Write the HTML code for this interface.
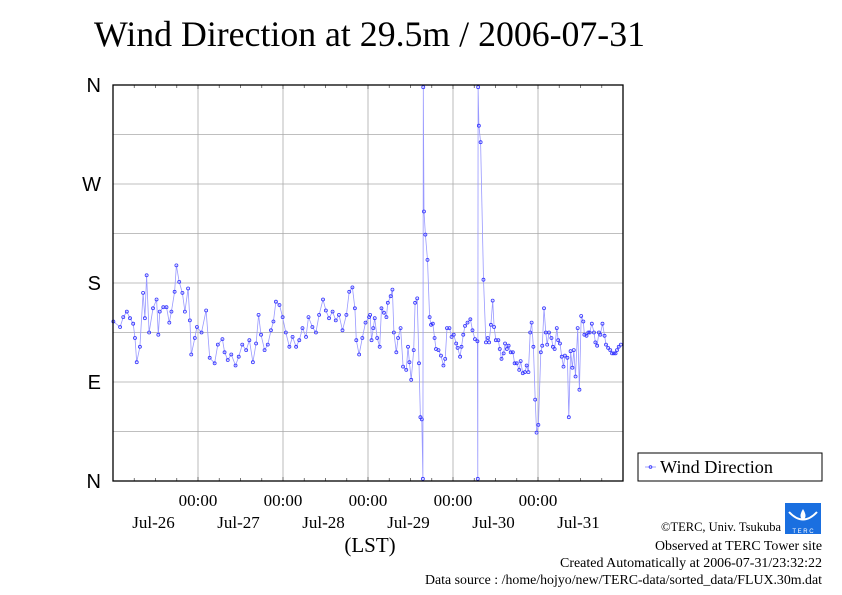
<!DOCTYPE html>
<html><head><meta charset="utf-8"><style>
body{margin:0;background:#fff;}
svg{display:block;font-family:"Liberation Serif",serif;}
</style></head><body>
<svg width="842" height="595" viewBox="0 0 842 595">
<rect width="842" height="595" fill="#fff"/>
<text x="94" y="46" font-size="36" textLength="551" lengthAdjust="spacingAndGlyphs">Wind Direction at 29.5m / 2006-07-31</text>
<g id="grid"></g>
<g id="axes"></g>
<g id="series"></g>
<rect x="113" y="85" width="510" height="396" fill="none" stroke="#000" stroke-width="1.3"/>
<g>
<rect x="638" y="453" width="184" height="28" fill="#fff" stroke="#000" stroke-width="1"/>
<line x1="645" y1="467" x2="656" y2="467" stroke="#8888ff" stroke-width="0.8"/>
<circle cx="650.5" cy="467" r="1.4" fill="none" stroke="#3333ff" stroke-width="0.8"/>
<text x="660" y="473" font-size="17.5" textLength="113" lengthAdjust="spacingAndGlyphs">Wind Direction</text>
</g>
<text x="370" y="552" font-size="21" text-anchor="middle">(LST)</text>
<g>
<rect x="785" y="503" width="36" height="31" fill="#1a6fe0"/>
<path d="M789 512 Q803 527 817 512" fill="none" stroke="#fff" stroke-width="2"/>
<path d="M803 509 Q798 517 803 520 Q808 517 803 509Z" fill="#fff"/>
<text x="803" y="533" font-size="6" fill="#fff" text-anchor="middle" font-family="Liberation Sans,sans-serif">T E R C</text>
</g>
<g text-anchor="end">
<text x="781" y="531" font-size="12.5" textLength="120" lengthAdjust="spacingAndGlyphs">©TERC, Univ. Tsukuba</text>
<text x="822" y="550" font-size="13.5" textLength="167" lengthAdjust="spacingAndGlyphs">Observed at TERC Tower site</text>
<text x="822" y="567" font-size="13.5" textLength="262" lengthAdjust="spacingAndGlyphs">Created Automatically at 2006-07-31/23:32:22</text>
<text x="822" y="584" font-size="13.5" textLength="397" lengthAdjust="spacingAndGlyphs">Data source : /home/hojyo/new/TERC-data/sorted_data/FLUX.30m.dat</text>
</g>
</svg>
<script>
const hours=[0.1,2.0,2.9,3.9,4.8,5.7,6.2,6.7,7.6,8.5,9.0,9.5,10.2,11.3,12.3,12.8,13.2,14.2,15.1,15.9,16.5,17.4,17.9,18.7,19.6,20.3,21.2,21.7,22.1,23.1,23.7,25.0,26.3,27.3,28.7,29.6,30.9,31.5,32.4,33.4,34.6,35.5,36.5,37.6,38.5,39.5,40.4,41.1,41.8,42.8,43.7,44.6,45.3,46.0,47.0,47.9,48.8,49.8,50.7,51.7,52.6,53.5,54.5,55.2,56.3,57.3,58.2,59.3,60.1,61.0,62.0,62.9,63.8,64.8,65.9,66.7,67.6,68.3,68.7,69.5,70.4,71.3,72.3,
72.6,73.0,73.5,73.9,74.6,75.3,75.8,76.5,77.2,77.6,78.4,78.9,79.3,80.0,80.5,81.2,81.9,82.8,83.3,83.7,84.2,84.9,85.3,85.9,86.4,86.8,87.2,87.5,87.6,87.8,88.2,88.8,89.4,
89.8,90.3,90.8,91.2,91.9,92.6,93.3,93.8,94.3,95.0,95.6,96.2,96.9,97.3,98.0,98.4,98.9,99.4,100.1,100.9,101.5,102.2,102.9,
103.0,103.1,103.3,103.8,104.6,
105.3,105.8,106.2,106.7,107.2,107.6,108.1,108.8,109.2,109.7,110.3,110.7,111.2,111.7,112.3,112.9,113.4,114.0,114.7,115.1,115.7,116.3,116.8,117.3,117.8,118.2,118.7,119.2,119.6,120.1,120.8,121.2,121.7,122.2,122.6,123.1,123.8,124.2,124.7,125.3,125.7,126.2,126.7,127.2,127.6,128.3,128.7,129.2,129.7,130.1,130.6,131.2,131.7,132.2,132.8,133.1,133.7,134.2,134.6,135.2,135.8,136.2,136.7,137.2,137.6,138.2,138.8,139.2,139.8,140.4,140.9,141.4,141.9,142.3,142.8,143.4];
const dirs=[145,140,149,154,148,143,130,108,122,171,148,187,135,157,165,133,154,158,158,144,154,172,196,181,171,154,175,146,115,130,140,135,155,112,107,124,129,117,110,115,105,113,124,119,128,108,125,151,133,119,124,137,145,163,160,149,135,122,131,122,128,139,131,149,140,135,151,165,155,148,154,146,151,137,151,172,176,157,128,115,130,144,149,
151,128,139,148,130,122,157,153,149,162,168,174,135,117,130,139,104,101,122,108,92,119,162,166,107,58,56,2,358,245,224,201,149,
142,143,130,120,119,114,105,111,139,139,131,133,125,121,113,122,133,141,144,147,137,129,127,
2,358,323,308,183,
126,130,126,142,164,140,128,128,120,111,116,125,120,123,117,117,107,107,101,109,98,99,105,99,135,144,122,74,44,51,117,123,157,135,124,135,130,122,120,139,128,125,113,104,114,112,58,118,103,119,95,139,83,150,145,133,132,135,135,143,135,126,123,135,133,143,132,124,121,119,116,116,116,119,122,124];
const yTicks=[0,90,180,270,360];
const yTickLabels=["N","E","S","W","N"];
const dayLabels=["Jul-26","Jul-27","Jul-28","Jul-29","Jul-30","Jul-31"];
const NS='http://www.w3.org/2000/svg';
const X0=113,X1=623,Y0=481,Y1=85,H=144;
function xs(h){return X0+(X1-X0)*h/H;}
function ys(d){return Y0-(Y0-Y1)*d/360;}
function mk(tag,attrs,parent){const e=document.createElementNS(NS,tag);for(const k in attrs)e.setAttribute(k,attrs[k]);parent.appendChild(e);return e;}
const grid=document.getElementById('grid'),axes=document.getElementById('axes'),ser=document.getElementById('series');
for(let d=45;d<360;d+=45){const l=mk('line',{x1:X0,x2:X1,y1:ys(d),y2:ys(d),stroke:'#aaa','stroke-width':0.8},grid);

}
for(let h=24;h<H;h+=24){const l=mk('line',{x1:xs(h),x2:xs(h),y1:Y1,y2:Y0,stroke:'#aaa','stroke-width':0.8},grid);

}
for(let h=6;h<H;h+=6){const big=h%24===0;
mk('line',{x1:xs(h),x2:xs(h),y1:Y1,y2:Y1+(big?4:3),stroke:'#555','stroke-width':0.8},axes);
mk('line',{x1:xs(h),x2:xs(h),y1:Y0,y2:Y0-(big?4:3),stroke:'#555','stroke-width':0.8},axes);}
yTicks.forEach((d,i)=>{const t=mk('text',{x:101,y:ys(d)+7,'font-size':20,'text-anchor':'end','font-family':'Liberation Sans,sans-serif'},axes);
t.textContent=yTickLabels[i];

});
for(let h=24;h<H;h+=24){const t=mk('text',{x:xs(h),y:506,'font-size':17,'text-anchor':'middle'},axes);
t.textContent='00:00';

}
dayLabels.forEach((s,i)=>{const t=mk('text',{x:xs(i*24+12)-2,y:528,'font-size':17,'text-anchor':'middle'},axes);
t.textContent=s;

});
const pts=hours.map((h,i)=>xs(h).toFixed(1)+','+ys(dirs[i]).toFixed(1)).join(' ');
const pl=mk('polyline',{points:pts,fill:'none',stroke:'#9999ff','stroke-width':0.8},ser);


hours.forEach((h,i)=>{const c=mk('circle',{cx:xs(h),cy:ys(dirs[i]),r:1.5,fill:'none',stroke:'#3333ff','stroke-width':0.8},ser);

});
</script>
</body></html>
